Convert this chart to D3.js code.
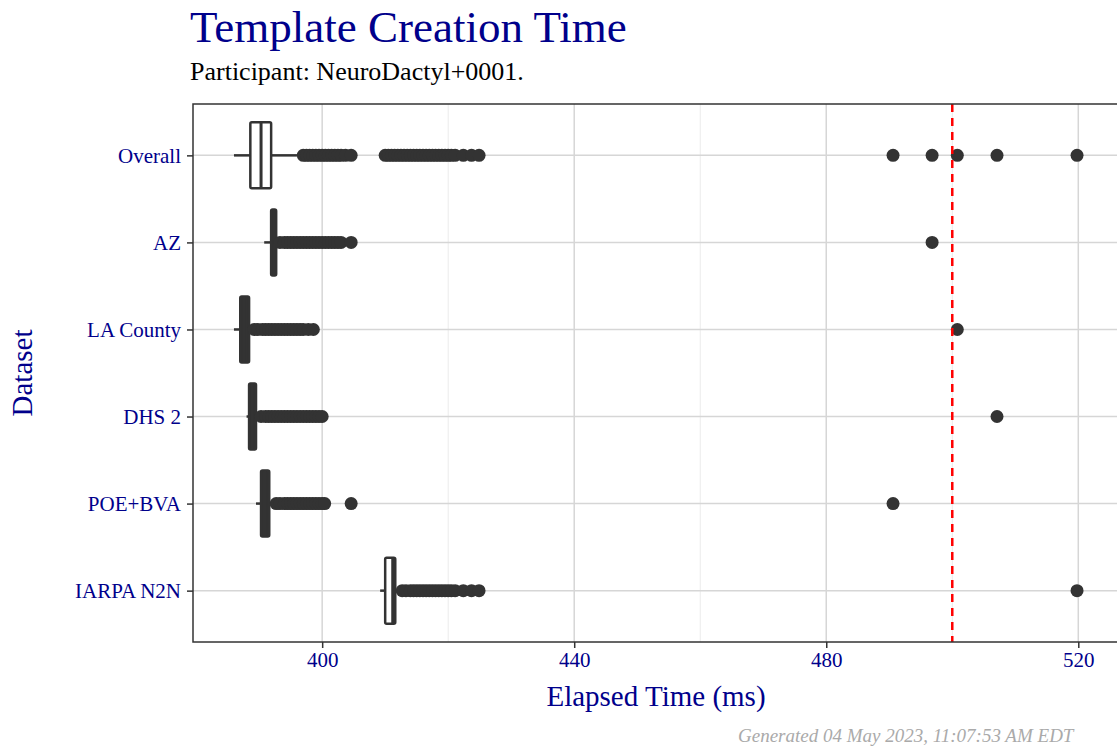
<!DOCTYPE html>
<html><head><meta charset="utf-8">
<script src="https://cdn.jsdelivr.net/npm/d3@7"></script>
<style>body{margin:0;background:#fff}svg{display:block}</style>
</head><body>
<script>
const categories = ["Overall","AZ","LA County","DHS 2","POE+BVA","IARPA N2N"];
const whiskerLow = [386.0, 390.8, 386.0, 388.0, 389.5, 409.2];
const q1 =         [388.6, 391.9, 387.0, 388.4, 390.3, 410.0];
const median =     [390.3, 392.3, 387.6, 388.9, 390.9, 411.2];
const q3 =         [391.9, 392.7, 388.4, 389.5, 391.6, 411.6];
const whiskerHigh= [396.0, 393.0, 389.0, 390.0, 392.5, 412.5];
const outliers = [
 [397,397.5,398,398.5,399,399.5,400,400.5,401,401.5,402,402.5,403,403.7,404.6,
  410,410.5,411,411.5,412,412.5,413,413.5,414,414.5,415,415.5,416,416.5,417,417.5,418,418.5,419,419.5,420,420.5,421.1,422.4,423.7,424.9,
  490.6,496.8,500.8,507.1,519.8],
 [393.3,394,394.5,395,395.5,396,396.5,397,397.5,398,398.5,399,399.5,400,400.5,401,401.5,402,402.5,403,404.6,496.8],
 [389.2,389.8,390.5,391,391.5,392,392.5,393,393.5,394,394.5,395,395.5,396,396.5,397,397.8,398.6,500.8],
 [390.3,391,391.5,392,392.5,393,393.5,394,394.5,395,395.5,396,396.5,397,397.5,398,398.5,399,399.5,400.0,507.1],
 [392.7,393.3,394,394.5,395,395.5,396,396.5,397,397.5,398,398.5,399,399.5,400,400.4,404.6,490.6],
 [412.7,413.3,414,414.5,415,415.5,416,416.5,417,417.5,418,418.5,419,419.5,420,420.5,421.1,422.4,423.7,424.9,519.8]
];
const xTicks = [400,440,480,520];
const xMinor = [420,460,500];
const threshold = 500;

const W=1117,H=749;
const svg=d3.select("body").append("svg").attr("width",W).attr("height",H);
const L=193,R=1135,T=104,B=642;
const x=d3.scaleLinear().domain([379.5,529]).range([L,R]);
const y=d3.scalePoint().domain(categories).range([T,B]).padding(0.59);
const bw=66;
const serif="'Liberation Serif','DejaVu Serif',serif";
const g=svg.append("g");
g.selectAll(".mn").data(xMinor).join("line").attr("x1",d=>x(d)).attr("x2",d=>x(d)).attr("y1",T).attr("y2",B).attr("stroke","#ebebeb").attr("stroke-width",1);
g.selectAll(".mj").data(xTicks).join("line").attr("x1",d=>x(d)).attr("x2",d=>x(d)).attr("y1",T).attr("y2",B).attr("stroke","#d6d6d6").attr("stroke-width",1.5);
g.selectAll(".hy").data(categories).join("line").attr("x1",L).attr("x2",R).attr("y1",d=>y(d)).attr("y2",d=>y(d)).attr("stroke","#d6d6d6").attr("stroke-width",1.5);

categories.forEach((c,i)=>{
  const cy=y(c);
  g.append("line").attr("x1",x(whiskerLow[i])).attr("x2",x(q1[i])).attr("y1",cy).attr("y2",cy).attr("stroke","#333").attr("stroke-width",2.5);
  g.append("line").attr("x1",x(q3[i])).attr("x2",x(whiskerHigh[i])).attr("y1",cy).attr("y2",cy).attr("stroke","#333").attr("stroke-width",2.5);
  const w=x(q3[i])-x(q1[i]);
  g.append("rect").attr("x",x(q1[i])).attr("width",w).attr("y",cy-bw/2).attr("height",bw)
   .attr("fill",w<9.5?"#333":"#fff").attr("stroke","#333").attr("stroke-width",2.5).attr("rx",1.5);
  g.append("line").attr("x1",x(median[i])).attr("x2",x(median[i])).attr("y1",cy-bw/2).attr("y2",cy+bw/2).attr("stroke","#333").attr("stroke-width",3);
  g.selectAll(null).data(outliers[i]).join("circle").attr("cx",d=>x(d)).attr("cy",cy).attr("r",6.5).attr("fill","#333");
});
g.append("line").attr("x1",x(threshold)).attr("x2",x(threshold)).attr("y1",T).attr("y2",B).attr("stroke","red").attr("stroke-width",2.5).attr("stroke-dasharray","8,6");
svg.append("rect").attr("x",L).attr("y",T).attr("width",R-L).attr("height",B-T).attr("fill","none").attr("stroke","#333").attr("stroke-width",1.5);

const ax=svg.append("g").attr("transform",`translate(0,${B})`).call(d3.axisBottom(x).tickValues(xTicks).tickSize(6).tickPadding(4));
ax.select(".domain").remove();
ax.selectAll("line").attr("stroke","#333").attr("stroke-width",1.5);
ax.selectAll("text").attr("font-family",serif).attr("font-size",21).attr("fill","#00008B");
const ay=svg.append("g").attr("transform",`translate(${L},0)`).call(d3.axisLeft(y).tickSize(6).tickPadding(6));
ay.select(".domain").remove();
ay.selectAll("line").attr("stroke","#333").attr("stroke-width",1.5);
ay.selectAll("text").attr("font-family",serif).attr("font-size",21).attr("fill","#00008B");

svg.append("text").attr("x",190).attr("y",42).attr("font-family",serif).attr("font-size",45).attr("fill","#00008B").text("Template Creation Time");
svg.append("text").attr("x",190).attr("y",80).attr("font-family",serif).attr("font-size",26).attr("fill","#000").text("Participant: NeuroDactyl+0001.");
svg.append("text").attr("x",656).attr("y",706).attr("text-anchor","middle").attr("font-family",serif).attr("font-size",29).attr("fill","#00008B").text("Elapsed Time (ms)");
svg.append("text").attr("transform",`translate(32,${(T+B)/2}) rotate(-90)`).attr("text-anchor","middle").attr("font-family",serif).attr("font-size",29).attr("fill","#00008B").text("Dataset");
svg.append("text").attr("x",738).attr("y",742).attr("font-family",serif).attr("font-style","italic").attr("font-size",19).attr("fill","#aaa").text("Generated 04 May 2023, 11:07:53 AM EDT");
</script>
</body></html>
